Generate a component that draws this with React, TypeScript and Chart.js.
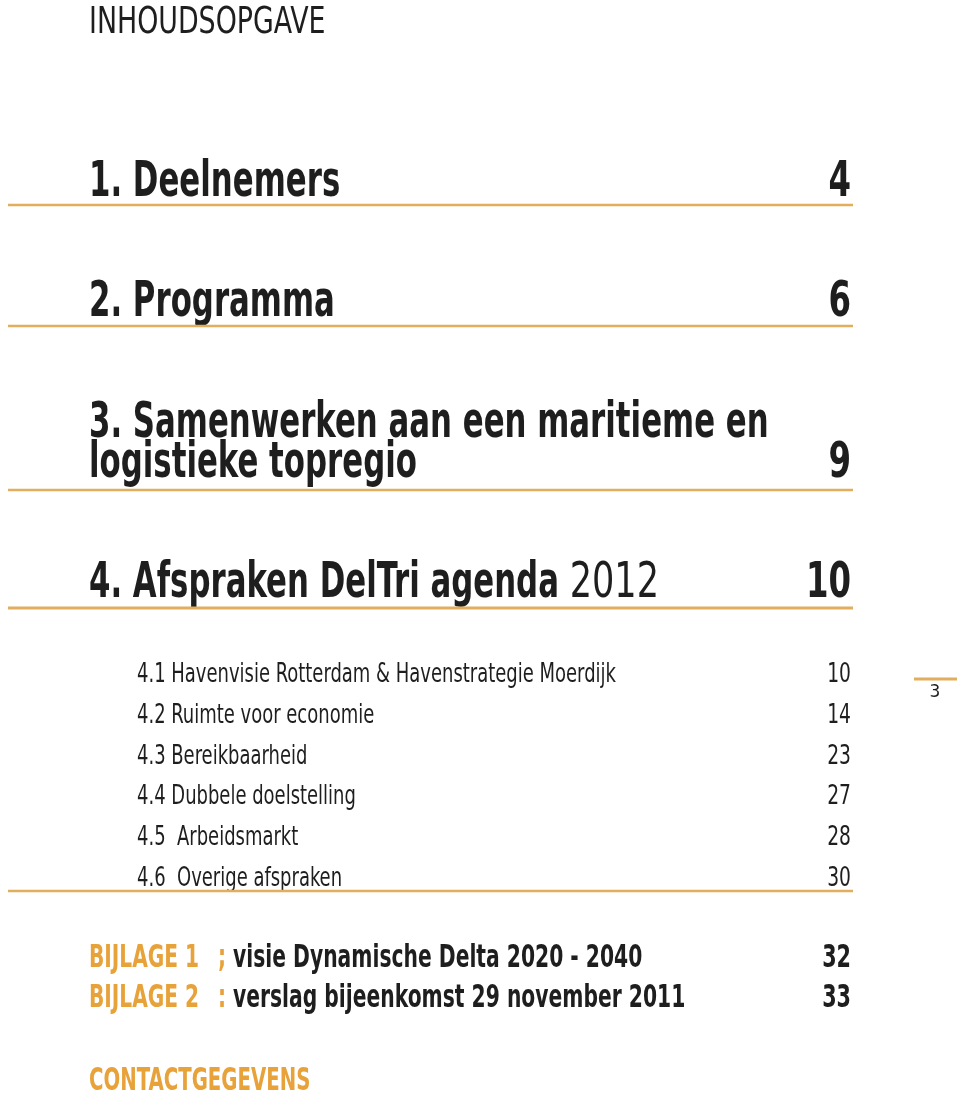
import React, { useEffect, useRef } from "react";
import { Chart, registerables } from "chart.js";

Chart.register(...registerables);

// ---- content ----
const pageTitle = "INHOUDSOPGAVE";
const headingLines = [
  ["1. Deelnemers"],
  ["2. Programma"],
  ["3. Samenwerken aan een maritieme en", "logistieke topregio"],
  ["4. Afspraken DelTri agenda"],
];
const headingSuffix = ["", "", "", "2012"];
const headingPages = ["4", "6", "9", "10"];
const subLabels = [
  "4.1 Havenvisie Rotterdam & Havenstrategie Moerdijk",
  "4.2 Ruimte voor economie",
  "4.3 Bereikbaarheid",
  "4.4 Dubbele doelstelling",
  "4.5  Arbeidsmarkt",
  "4.6  Overige afspraken",
];
const subPages = ["10", "14", "23", "27", "28", "30"];
const appendixLabels = ["BIJLAGE 1", "BIJLAGE 2"];
const appendixSeparators = [";", ":"];
const appendixTitles = [
  "visie Dynamische Delta 2020 - 2040",
  "verslag bijeenkomst 29 november 2011",
];
const appendixPages = ["32", "33"];
const contactLabel = "CONTACTGEGEVENS";
const sidePageNumber = "3";

// ---- layout (page units, mapped through the chart's scales) ----
const W = 960;
const H = 1099;
const LEFT = 89;
const SUB_LEFT = 137;
const RIGHT = 851;
const RULE_LEFT = 8;
const RULE_RIGHT = 853;
const headingBaselines = [196, 316, 437, 597];
const headingLineGap = 40;
const headingRules = [205, 326, 490, 608];
const subBaseline0 = 682;
const subStep = 40.8;
const subRule = 891;
const appendixBaselines = [967, 1007];
const contactBaseline = 1090;

const FAMILY = '"DejaVu Sans Condensed", "DejaVu Sans", sans-serif';
const DARK = "#1e1e1e";
const ORANGE = "#E8A23A";
const RULE = "#E2AE5E";

const tocPlugin = {
  id: "toc",
  afterDraw(chart: any) {
    const ctx = chart.ctx as CanvasRenderingContext2D;
    const sx = chart.scales.x;
    const sy = chart.scales.y;
    const px = (v: number) => sx.getPixelForValue(v);
    const py = (v: number) => sy.getPixelForValue(v);
    ctx.save();
    ctx.textBaseline = "alphabetic";

    // draws horizontally condensed text; returns its drawn width in page units
    const text = (
      t: string,
      x: number,
      y: number,
      font: string,
      color: string,
      k: number,
      align: CanvasTextAlign = "left"
    ) => {
      ctx.font = font;
      ctx.fillStyle = color;
      const w = ctx.measureText(t).width * k;
      const x0 = align === "right" ? px(x) - w : align === "center" ? px(x) - w / 2 : px(x);
      ctx.save();
      ctx.translate(x0, py(y));
      ctx.scale(k, 1);
      ctx.textAlign = "left";
      ctx.fillText(t, 0, 0);
      ctx.restore();
      return w;
    };
    const rule = (y: number, x0: number, x1: number, w: number) => {
      ctx.strokeStyle = RULE;
      ctx.lineWidth = w;
      ctx.beginPath();
      ctx.moveTo(px(x0), py(y));
      ctx.lineTo(px(x1), py(y));
      ctx.stroke();
    };

    // title
    text(pageTitle, LEFT, 33, `38px ${FAMILY}`, DARK, 0.785);

    // main headings
    const HK = 0.685;
    headingLines.forEach((lines, i) => {
      let last = 0;
      lines.forEach((ln, j) => {
        const y = headingBaselines[i] + j * headingLineGap;
        const w = text(ln, LEFT, y, `bold 50px ${FAMILY}`, DARK, HK);
        if (j === lines.length - 1 && headingSuffix[i]) {
          ctx.font = `bold 50px ${FAMILY}`;
          const sp = ctx.measureText(" ").width * HK;
          text(headingSuffix[i], LEFT + w + sp, y, `50px ${FAMILY}`, DARK, 0.78);
        }
        last = y;
      });
      text(headingPages[i], RIGHT, last, `bold 50px ${FAMILY}`, DARK, 0.72, "right");
      rule(headingRules[i], RULE_LEFT, RULE_RIGHT, i === 3 ? 3 : 2.5);
    });

    // sub headings
    subLabels.forEach((s, i) => {
      const y = subBaseline0 + i * subStep;
      text(s, SUB_LEFT, y, `27px ${FAMILY}`, DARK, 0.74);
      text(subPages[i], RIGHT, y, `27px ${FAMILY}`, DARK, 0.77, "right");
    });
    rule(subRule, RULE_LEFT, RULE_RIGHT, 2.5);

    // side page number
    rule(679, 914, 957, 3);
    text(sidePageNumber, 935, 697, `17px "DejaVu Sans", sans-serif`, DARK, 1, "center");

    // appendices
    appendixLabels.forEach((lab, i) => {
      const y = appendixBaselines[i];
      text(lab, LEFT, y, `bold 32px ${FAMILY}`, ORANGE, 0.7);
      text(appendixSeparators[i], 218, y, `bold 32px ${FAMILY}`, ORANGE, 0.7);
      text(appendixTitles[i], 233, y, `bold 32px ${FAMILY}`, DARK, 0.705);
      text(appendixPages[i], RIGHT, y, `bold 32px ${FAMILY}`, DARK, 0.72, "right");
    });

    text(contactLabel, LEFT, contactBaseline, `bold 32px ${FAMILY}`, ORANGE, 0.685);
    ctx.restore();
  },
};

export default function App() {
  const ref = useRef<HTMLCanvasElement | null>(null);
  useEffect(() => {
    if (!ref.current) return;
    const chart = new Chart(ref.current, {
      type: "scatter",
      data: { datasets: [] },
      options: {
        animation: false,
        responsive: false,
        maintainAspectRatio: false,
        layout: { padding: 0 },
        plugins: { legend: { display: false }, tooltip: { enabled: false } },
        scales: {
          x: { type: "linear", min: 0, max: W, display: false },
          y: { type: "linear", min: 0, max: H, reverse: true, display: false },
        },
      },
      plugins: [tocPlugin],
    });
    return () => chart.destroy();
  }, []);
  return (
    <div style={{ position: "absolute", left: 0, top: 0, width: W, height: H, background: "#fff" }}>
      <canvas ref={ref} width={W} height={H} style={{ width: W, height: H, display: "block" }} />
    </div>
  );
}
